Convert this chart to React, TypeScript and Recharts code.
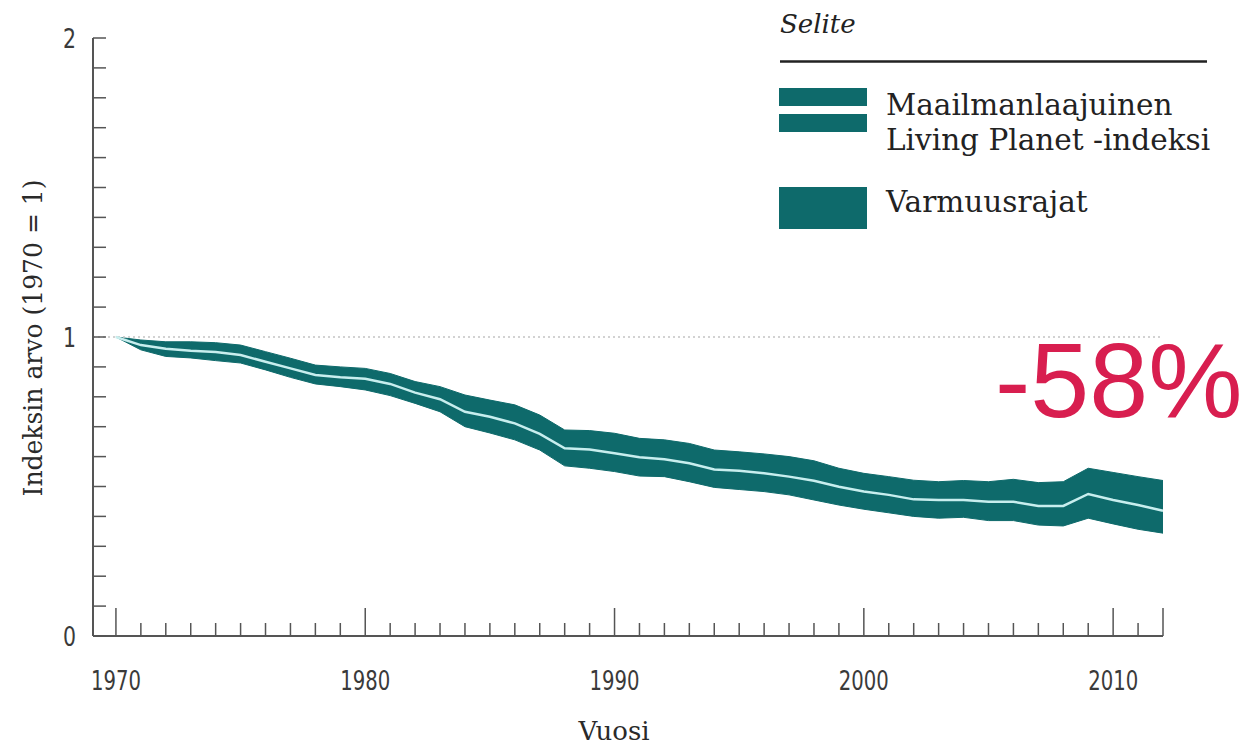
import { Area, ComposedChart, Line, ReferenceLine, XAxis, YAxis } from "recharts";

const years = [
  1970, 1971, 1972, 1973, 1974, 1975, 1976, 1977, 1978, 1979, 1980, 1981, 1982, 1983, 1984,
  1985, 1986, 1987, 1988, 1989, 1990, 1991, 1992, 1993, 1994, 1995, 1996, 1997, 1998, 1999,
  2000, 2001, 2002, 2003, 2004, 2005, 2006, 2007, 2008, 2009, 2010, 2011, 2012,
];

const lpiIndex = [
  1.0, 0.973, 0.961, 0.954, 0.95, 0.94, 0.917, 0.895, 0.873, 0.865, 0.86, 0.843, 0.814, 0.792,
  0.75, 0.733, 0.711, 0.676, 0.628, 0.624, 0.611, 0.598, 0.591, 0.578, 0.557, 0.553, 0.544,
  0.533, 0.519, 0.499, 0.483, 0.472, 0.457, 0.455, 0.455, 0.449, 0.449, 0.435, 0.435, 0.475,
  0.455, 0.438, 0.419,
];

const upperLimit = [
  1.0, 0.99, 0.984, 0.984, 0.981, 0.973, 0.951, 0.929, 0.906, 0.9, 0.895, 0.878, 0.851, 0.834,
  0.806, 0.789, 0.773, 0.739, 0.689, 0.687, 0.678, 0.661, 0.656, 0.644, 0.622, 0.616, 0.609,
  0.6, 0.586, 0.561, 0.544, 0.533, 0.521, 0.516, 0.52, 0.516, 0.524, 0.513, 0.516, 0.561,
  0.547, 0.533, 0.52,
];

const lowerLimit = [
  1.0, 0.957, 0.935, 0.93, 0.921, 0.913, 0.89, 0.865, 0.843, 0.834, 0.823, 0.804, 0.778, 0.75,
  0.7, 0.679, 0.656, 0.622, 0.569, 0.561, 0.55, 0.535, 0.533, 0.516, 0.497, 0.49, 0.483,
  0.472, 0.455, 0.438, 0.424, 0.412, 0.4, 0.394, 0.397, 0.386, 0.386, 0.371, 0.368, 0.394,
  0.375, 0.357, 0.344,
];

const yTicks = [
  0, 0.1, 0.2, 0.3, 0.4, 0.5, 0.6, 0.7, 0.8, 0.9, 1, 1.1, 1.2, 1.3, 1.4, 1.5, 1.6, 1.7, 1.8,
  1.9, 2,
];
const yLabels = [0, 1, 2];
const xLabels = [1970, 1980, 1990, 2000, 2010];

const TEAL = "#0e6a6b";
const AXIS = "#555";
const TICK_FONT = '"DejaVu Sans", sans-serif';
const SERIF = '"DejaVu Serif", serif';

const data = years.map((year, i) => ({
  year,
  band: [lowerLimit[i], upperLimit[i]],
  index: lpiIndex[i],
}));

// tick marks sit inside the plot; labels are squeezed to look like a condensed face
function YTick(props: any) {
  const { x, y, payload } = props;
  const v = payload.value;
  return (
    <g>
      <line x1={x} x2={x + 13} y1={y} y2={y} stroke={AXIS} strokeWidth={1.5} />
      {yLabels.includes(v) ? (
        <text
          x={x - 17}
          y={y + 10}
          textAnchor="end"
          fontFamily={TICK_FONT}
          fontSize={27}
          fill="#3a3a3a"
          textLength={13}
          lengthAdjust="spacingAndGlyphs"
        >
          {v}
        </text>
      ) : null}
    </g>
  );
}

function XTick(props: any) {
  const { x, y, payload } = props;
  const yr = payload.value;
  const major = yr % 10 === 0 || yr === 2012;
  return (
    <g>
      <line x1={x} x2={x} y1={y} y2={y - (major ? 28 : 13)} stroke={AXIS} strokeWidth={1.5} />
      {xLabels.includes(yr) ? (
        <text
          x={x}
          y={y + 54}
          textAnchor="middle"
          fontFamily={TICK_FONT}
          fontSize={27}
          fill="#3a3a3a"
          textLength={50}
          lengthAdjust="spacingAndGlyphs"
        >
          {yr}
        </text>
      ) : null}
    </g>
  );
}

export default function App() {
  return (
    <div style={{ position: "absolute", left: 0, top: 0, width: 1255, height: 745, background: "#fff" }}>
      <ComposedChart width={1255} height={745} data={data} margin={{ top: 38, right: 92, left: 0, bottom: 0 }}>
        <XAxis
          dataKey="year"
          type="number"
          domain={[1969.08, 2012]}
          ticks={years}
          interval={0}
          tick={<XTick />}
          tickLine={false}
          tickSize={0}
          tickMargin={0}
          height={109}
          axisLine={{ stroke: AXIS, strokeWidth: 2 }}
          label={{
            content: () => (
              <text x={614} y={740} textAnchor="middle" fontFamily={SERIF} fontSize={26} fill="#2a2a2a">
                Vuosi
              </text>
            ),
          }}
        />
        <YAxis
          type="number"
          domain={[0, 2]}
          ticks={yTicks}
          interval={0}
          tick={<YTick />}
          tickLine={false}
          tickSize={0}
          tickMargin={0}
          width={93}
          axisLine={{ stroke: AXIS, strokeWidth: 2 }}
          label={{
            content: () => (
              <text
                x={42}
                y={338}
                transform="rotate(-90 42 338)"
                textAnchor="middle"
                fontFamily={SERIF}
                fontSize={26}
                fill="#2a2a2a"
                textLength={317}
                lengthAdjust="spacingAndGlyphs"
              >
                Indeksin arvo (1970 = 1)
              </text>
            ),
          }}
        />
        <ReferenceLine y={1} stroke="#c4c4c4" strokeDasharray="2 3" strokeWidth={1.5} />
        <Area
          type="linear"
          dataKey="band"
          stroke={TEAL}
          strokeWidth={1}
          fill={TEAL}
          fillOpacity={1}
          isAnimationActive={false}
        />
        <Line
          type="linear"
          dataKey="index"
          stroke="#c8eeee"
          strokeWidth={2.5}
          dot={false}
          isAnimationActive={false}
        />
      </ComposedChart>
      <svg width={1255} height={745} style={{ position: "absolute", left: 0, top: 0, pointerEvents: "none" }}>
        <text x={780} y={33} fontFamily={SERIF} fontStyle="italic" fontSize={26} fill="#222">
          Selite
        </text>
        <line x1={780} x2={1207} y1={61.5} y2={61.5} stroke="#222" strokeWidth={2.5} />
        <rect x={779} y={88} width={88} height={18} fill={TEAL} />
        <rect x={779} y={114} width={88} height={18} fill={TEAL} />
        <rect x={779} y={187} width={88} height={42} fill={TEAL} />
        <text x={886} y={115} fontFamily={SERIF} fontSize={29.5} fill="#222">
          Maailmanlaajuinen
        </text>
        <text x={886} y={150} fontFamily={SERIF} fontSize={29.5} fill="#222">
          Living Planet -indeksi
        </text>
        <text x={886} y={212} fontFamily={SERIF} fontSize={29.5} fill="#222">
          Varmuusrajat
        </text>
        <text x={995} y={417} fontFamily='"Liberation Sans", Arial, sans-serif' fontSize={106} fill="#d81e4f">
          -58%
        </text>
      </svg>
    </div>
  );
}
